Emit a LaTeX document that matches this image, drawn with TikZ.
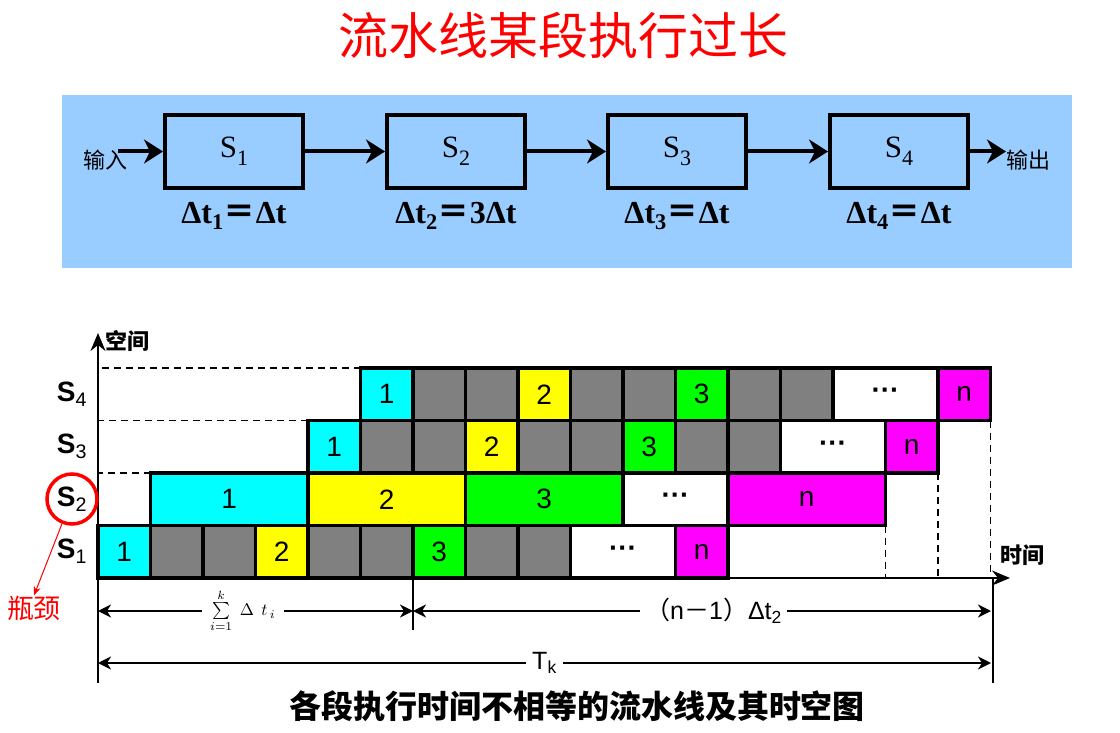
\documentclass[tikz,border=0pt]{standalone}
\usepackage{exscale}
\usepackage{fontspec}
\setmainfont{Liberation Serif}
\setsansfont{Liberation Sans}
\newfontfamily\cjk{Noto Sans CJK SC}
\usetikzlibrary{arrows.meta}
\definecolor{panelblue}{HTML}{99CCFF}
\definecolor{ccyan}{HTML}{00FFFF}
\definecolor{cgrey}{HTML}{808080}
\definecolor{cyell}{HTML}{FFFF00}
\definecolor{cgreen}{HTML}{00FF00}
\definecolor{cmag}{HTML}{FF00FF}
\newcommand\fs[1]{\fontsize{#1}{#1}\selectfont}
\newcommand\bsub[1]{\raisebox{-0.25em}{\fontsize{22}{22}\selectfont #1}}
\newcommand\pcell[6]{\node[pcellst, fill=#5, minimum width=#4*52.5pt] (#1) at (#2,#3) {#6};}
\tikzset{
  stagebox/.style={draw, line width=4pt, fill=panelblue, minimum width=138pt, minimum height=73pt, inner sep=0pt, font=\fs{31}},
  dlabel/.style={font=\bfseries\fs{32}, inner sep=0pt},
  bigarrow/.style={line width=4pt, -{Stealth[length=19pt,width=24pt,inset=6pt]}},
  pcellst/.style={draw, line width=3.5pt, minimum height=52.5pt, inner sep=0pt, outer sep=0pt, anchor=south west, font=\sffamily\fs{28}},
  rowlab/.style={font=\sffamily\bfseries\fs{28}, inner sep=0pt},
  axisline/.style={line width=2.5pt, -{Stealth[length=18pt,width=15pt,inset=6pt]}},
  dashline/.style={line width=1.3pt, dash pattern=on 7pt off 5pt},
  dimline/.style={line width=2pt},
  dimarrow/.style={line width=2pt, {Stealth[length=13pt,width=13pt,inset=4pt]}-{Stealth[length=13pt,width=13pt,inset=4pt]}},
  cjklab/.style={font=\cjk\fs{22}, inner sep=0pt}
}
\begin{document}
\begin{tikzpicture}[x=1pt,y=-1pt]
\useasboundingbox (0,0) rectangle (1120,733);
% title
\node[text=red, font=\cjk\fs{50}] (title) at (563,35) {流水线某段执行过长};
% panel
\node[fill=panelblue, minimum width=1010pt, minimum height=173pt, inner sep=0pt, anchor=north west] (panel) at (62,95) {};
\node[stagebox] (b1) at (234,151.5) {S\bsub{1}};
\node[stagebox] (b2) at (456,151.5) {S\bsub{2}};
\node[stagebox] (b3) at (677,151.5) {S\bsub{3}};
\node[stagebox] (b4) at (899,151.5) {S\bsub{4}};
\node[dlabel] (d1) at (234,216) {Δt\textsubscript{1}{\cjk ＝}Δt};
\node[dlabel] (d2) at (456,216) {Δt\textsubscript{2}{\cjk ＝}3Δt};
\node[dlabel] (d3) at (677,216) {Δt\textsubscript{3}{\cjk ＝}Δt};
\node[dlabel] (d4) at (899,216) {Δt\textsubscript{4}{\cjk ＝}Δt};
\node[cjklab, anchor=west] (in) at (83,160) {输入};
\node[cjklab, anchor=west] (out) at (1006,160) {输出};
\coordinate (inst) at (118,151.5);
\draw[bigarrow] (inst) -- (b1.west);
\draw[bigarrow] (b1.east) -- (b2.west);
\draw[bigarrow] (b2.east) -- (b3.west);
\draw[bigarrow] (b3.east) -- (b4.west);
\draw[bigarrow] (b4.east) -- (out.west |- b4.east);
% chart
\begin{scope}[shift={(98pt,-578pt)}, x=52.5pt, y=52.5pt]
% S4 row
\pcell{r4c5}{5}{3}{1}{ccyan}{1}
\pcell{r4c6}{6}{3}{1}{cgrey}{}
\pcell{r4c7}{7}{3}{1}{cgrey}{}
\pcell{r4c8}{8}{3}{1}{cyell}{2}
\pcell{r4c9}{9}{3}{1}{cgrey}{}
\pcell{r4c10}{10}{3}{1}{cgrey}{}
\pcell{r4c11}{11}{3}{1}{cgreen}{3}
\pcell{r4c12}{12}{3}{1}{cgrey}{}
\pcell{r4c13}{13}{3}{1}{cgrey}{}
\pcell{r4c14}{14}{3}{2}{white}{\bfseries ···}
\pcell{r4c16}{16}{3}{1}{cmag}{n}
% S3 row
\pcell{r3c4}{4}{2}{1}{ccyan}{1}
\pcell{r3c5}{5}{2}{1}{cgrey}{}
\pcell{r3c6}{6}{2}{1}{cgrey}{}
\pcell{r3c7}{7}{2}{1}{cyell}{2}
\pcell{r3c8}{8}{2}{1}{cgrey}{}
\pcell{r3c9}{9}{2}{1}{cgrey}{}
\pcell{r3c10}{10}{2}{1}{cgreen}{3}
\pcell{r3c11}{11}{2}{1}{cgrey}{}
\pcell{r3c12}{12}{2}{1}{cgrey}{}
\pcell{r3c13}{13}{2}{2}{white}{\bfseries ···}
\pcell{r3c15}{15}{2}{1}{cmag}{n}
% S2 row
\pcell{r2c1}{1}{1}{3}{ccyan}{1}
\pcell{r2c4}{4}{1}{3}{cyell}{2}
\pcell{r2c7}{7}{1}{3}{cgreen}{3}
\pcell{r2c10}{10}{1}{2}{white}{\bfseries ···}
\pcell{r2c12}{12}{1}{3}{cmag}{n}
% S1 row
\pcell{r1c0}{0}{0}{1}{ccyan}{1}
\pcell{r1c1}{1}{0}{1}{cgrey}{}
\pcell{r1c2}{2}{0}{1}{cgrey}{}
\pcell{r1c3}{3}{0}{1}{cyell}{2}
\pcell{r1c4}{4}{0}{1}{cgrey}{}
\pcell{r1c5}{5}{0}{1}{cgrey}{}
\pcell{r1c6}{6}{0}{1}{cgreen}{3}
\pcell{r1c7}{7}{0}{1}{cgrey}{}
\pcell{r1c8}{8}{0}{1}{cgrey}{}
\pcell{r1c9}{9}{0}{2}{white}{\bfseries ···}
\pcell{r1c11}{11}{0}{1}{cmag}{n}
\end{scope}
% axes
\coordinate (o) at (98,578);
\coordinate (ybot) at (98,683);
\coordinate (ytop) at (98,333);
\coordinate (tend) at (1010,578);
\draw[axisline] (ybot) -- (ytop);
\draw[axisline] (o) -- (tend);
\node[font=\cjk\bfseries\fs{22}, inner sep=0pt] (yl) at (127,341) {空间};
\node[font=\cjk\bfseries\fs{22}, inner sep=0pt] (xl) at (1022,555) {时间};
% dashed guides
\draw[dashline] (r4c5.north west) -- (r4c5.north west -| o);
\draw[dashline] (r3c4.north west) -- (r3c4.north west -| o);
\draw[dashline] (r2c1.north west) -- (r2c1.north west -| o);
\draw[dashline] (r2c12.south east) -- (r2c12.south east |- o);
\draw[dashline] (r3c15.south east) -- (r3c15.south east |- o);
\draw[dashline] (r4c16.south east) -- (r4c16.south east |- o);
% row labels
\node[rowlab] (l4) at (72,394) {S\textsubscript{\mdseries 4}};
\node[rowlab] (l3) at (72,446) {S\textsubscript{\mdseries 3}};
\node[rowlab] (l2) at (72,499) {S\textsubscript{\mdseries 2}};
\node[rowlab] (l1) at (72,551) {S\textsubscript{\mdseries 1}};
\node[draw=red, line width=3.5pt, circle, minimum size=50pt, inner sep=0pt] (ring) at (l2) {};
\node[text=red, font=\cjk\fs{27}, inner sep=0pt] (bn) at (34,608) {瓶颈};
\draw[red, line width=1pt, -{Stealth[length=9pt,width=7pt]}] (ring.-112) -- (bn.north);
% dimensions
\coordinate (mtop) at (r1c6.south west);
\coordinate (mbot) at (413,630);
\coordinate (etop) at (993,578);
\coordinate (ebot) at (993,683);
\draw[dimline] (mtop) -- (mbot);
\draw[dimline] (etop) -- (ebot);
\coordinate (a1l) at (98,611);
\coordinate (a1r) at (413,611);
\coordinate (a2r) at (991,611);
\coordinate (a3l) at (98,663);
\coordinate (a3r) at (991,663);
\draw[dimarrow] (a1l) -- node[pos=.46, fill=white, inner xsep=8pt, inner ysep=0pt] (sumlab) {\scalebox{1.7}{$\sum\limits_{i=1}^{k}\;\Delta\;\,t_{\,i}$}} (a1r);
\draw[dimarrow] (a1r) -- node[pos=.52, fill=white, inner sep=5pt, font=\sffamily\fs{25}] (nlab) {{\cjk （}n{\cjk －}1{\cjk ）}Δt\textsubscript{2}} (a2r);
\draw[dimarrow] (a3l) -- node[pos=.5, fill=white, inner sep=6pt, font=\sffamily\fs{25}] (tk) {T\textsubscript{k}} (a3r);
% caption
\node[font=\cjk\bfseries\fs{32}, inner sep=0pt] (cap) at (577,706) {各段执行时间不相等的流水线及其时空图};
\end{tikzpicture}
\end{document}
